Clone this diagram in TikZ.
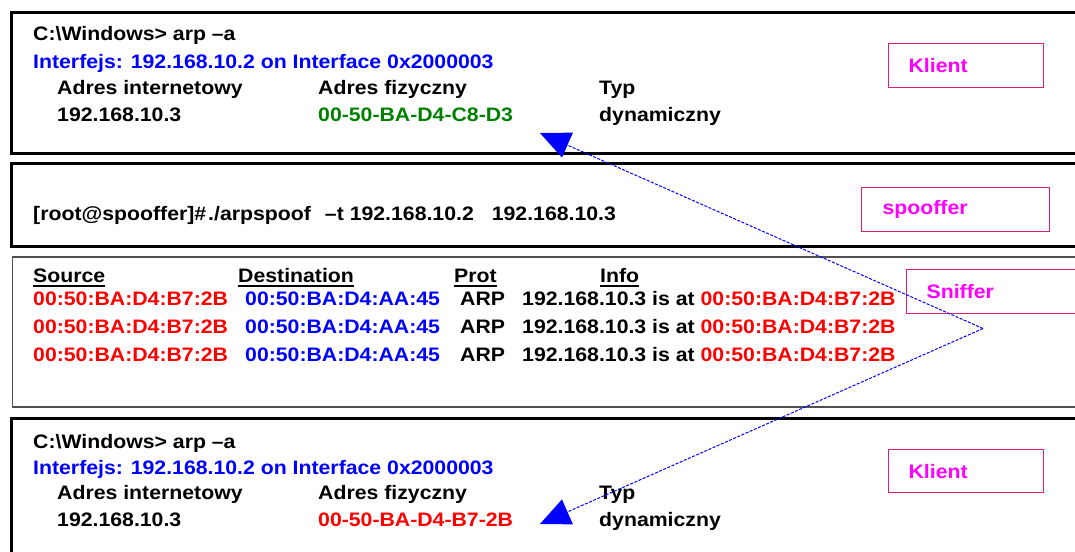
\documentclass[tikz,border=0pt]{standalone}
\usepackage{fontspec}
\setmainfont{Liberation Sans}[FakeStretch=1.09]
\usetikzlibrary{arrows.meta}

\definecolor{cmdblue}{RGB}{0,0,255}
\definecolor{macgreen}{RGB}{0,128,0}
\definecolor{macred}{RGB}{255,0,0}
\definecolor{tagpink}{RGB}{255,0,255}
\definecolor{tagedge}{RGB}{220,30,120}
\definecolor{framegray}{RGB}{80,80,80}

\tikzset{
  txt/.style={anchor=base west, inner sep=0pt, font=\fontsize{19.5}{23}\selectfont\bfseries},
  frame/.style={draw=black, line width=3pt},
  thinframe/.style={draw=framegray, line width=1.5pt},
  tagbox/.style={draw=tagedge, line width=1.2pt, anchor=north west, minimum height=44pt,
    text=tagpink, align=left, inner xsep=20pt, inner ysep=0pt,
    font=\fontsize{19.5}{23}\selectfont\bfseries},
  spoofarrow/.style={draw=cmdblue, line width=1pt, dash pattern=on 3pt off 1.5pt,
    -{Triangle[length=30pt,width=27pt]}},
  hdrline/.style={draw=black, line width=1.6pt}
}

\begin{document}
\begin{tikzpicture}[x=1pt, y=-1pt]
\useasboundingbox (0,0) rectangle (1075,551);
\fill[white] (0,0) rectangle (1075,551);
\begin{scope}
\clip (0,0) rectangle (1075,551);

% panel frames
\draw[frame] (11,12.5) rectangle (1100,153);
\draw[frame] (11,163) rectangle (1100,246);
\draw[thinframe] (12.5,257) rectangle (1100,407);
\draw[frame] (11,418) rectangle (1100,570);

% first client: ARP table before the attack
\node[txt] (cmdA) at (33,41) {C:\textbackslash Windows> arp –a};
\node[txt, text=cmdblue] (ifA) at (33,68) {Interfejs: 192.168.10.2 on Interface 0x2000003};
\node[txt] (inetA) at (57,94) {Adres internetowy};
\node[txt] (physA) at (318,94) {Adres fizyczny};
\node[txt] (typA) at (599,94) {Typ};
\node[txt] (ipA) at (57,121) {192.168.10.3};
\node[txt, text=macgreen] (macA) at (318,121) {00-50-BA-D4-C8-D3};
\node[txt] (dynA) at (599,121) {dynamiczny};
\node[tagbox, text width=115pt] (klientA) at (888,43) {Klient};

% spoofer command
\node[txt] (spoofcmd) at (33,220) {[root@spooffer]\#\hspace{2pt}./arpspoof\hspace{14pt}–t 192.168.10.2\hspace{18pt}192.168.10.3};
\node[tagbox, text width=146pt, inner xsep=21pt] (spoofer) at (861,187) {spooffer};

% sniffer capture
\node[txt] (hsrc) at (33,282) {Source};
\node[txt] (hdst) at (238,282) {Destination};
\node[txt] (hprot) at (454,282) {Prot};
\node[txt] (hinfo) at (600,282) {Info};
\foreach \n in {hsrc,hdst,hprot,hinfo}
  \draw[hdrline] ([yshift=-4pt]\n.base west) -- ([yshift=-4pt]\n.base east);

\foreach \y/\i in {305/1,333/2,361/3}{
  \node[txt, text=macred] (src\i) at (33,\y) {00:50:BA:D4:B7:2B};
  \node[txt, text=cmdblue] (dst\i) at (245,\y) {00:50:BA:D4:AA:45};
  \node[txt] (prot\i) at (460,\y) {ARP};
  \node[txt] (info\i) at (522,\y) {192.168.10.3 is at \textcolor{macred}{00:50:BA:D4:B7:2B}};
}
\node[tagbox, text width=154pt] (sniffer) at (906,269) {Sniffer};

% second client: ARP table after the attack
\node[txt] (cmdB) at (33,448) {C:\textbackslash Windows> arp –a};
\node[txt, text=cmdblue] (ifB) at (33,474) {Interfejs: 192.168.10.2 on Interface 0x2000003};
\node[txt] (inetB) at (57,499) {Adres internetowy};
\node[txt] (physB) at (318,499) {Adres fizyczny};
\node[txt] (typB) at (599,499) {Typ};
\node[txt] (ipB) at (57,526) {192.168.10.3};
\node[txt, text=macred] (macB) at (318,526) {00-50-BA-D4-B7-2B};
\node[txt] (dynB) at (599,526) {dynamiczny};
\node[tagbox, text width=115pt, minimum height=43pt] (klientB) at (888,449) {Klient};

% spoofed replies pointing at both MAC entries
\coordinate (fork) at (983,328.5);
\coordinate (tipA) at (540,133);
\coordinate (tipB) at (540,524);
\draw[spoofarrow] (fork) -- (tipA);
\draw[spoofarrow] (fork) -- (tipB);
\end{scope}
\end{tikzpicture}
\end{document}
